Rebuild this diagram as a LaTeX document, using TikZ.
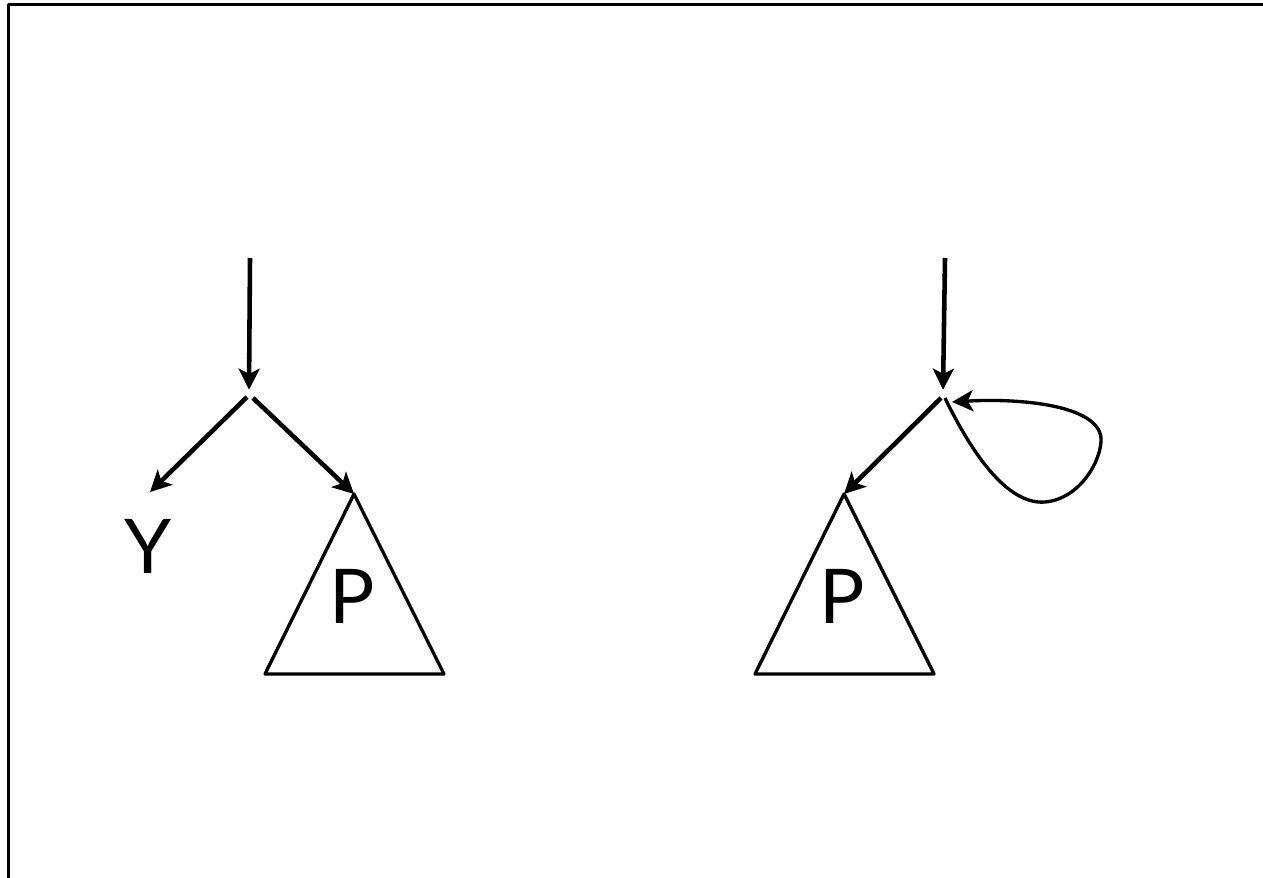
\documentclass[tikz,border=0pt]{standalone}
\usepackage{fontspec}
\setmainfont{Lato}
\usetikzlibrary{arrows.meta}
\begin{document}
\begin{tikzpicture}[x=0.02cm, y=-0.02cm, >={Stealth[length=12pt,width=12pt,inset=3pt]},
  line join=round,
  edge/.style={->, line width=2.6pt},
  tri/.style={line width=1.9pt},
  lbl/.style={font=\fontsize{43}{43}\selectfont, inner sep=0pt}]
\useasboundingbox (0,0) rectangle (1263,878);
\draw[line width=2.2pt] (8.5,878)--(8.5,4.5)--(1263,4.5);
% left tree
\coordinate (top1) at (250,258);
\coordinate (j1) at (249,395);
\coordinate (a1) at (354,494);
\node[lbl] (y) at (148,546) {Y};
\draw[edge] (top1)--([yshift=3pt]j1);
\draw[edge] ([shift={(-2,2)}]j1)--(150,492);
\draw[edge] ([shift={(4,3)}]j1)--(a1);
\draw[tri] (a1)--(444,674)--(265,674)--cycle;
\node[lbl] (p1) at (352,596) {P};
% right tree
\coordinate (top2) at (945,258);
\coordinate (j2) at (943,395);
\coordinate (a2) at (844,494);
\draw[edge] (top2)--([yshift=3pt]j2);
\draw[edge] ([shift={(-2,3)}]j2)--(a2);
\draw[tri] (a2)--(934,674)--(755,674)--cycle;
\node[lbl] (p2) at (842,596) {P};
% loop
\draw[tri, ->] ([shift={(2,3)}]j2) .. controls (975,460) and (1010,505) .. (1045,502)
  .. controls (1080,499) and (1102,460) .. (1101,438)
  .. controls (1098,405) and (1020,398) .. (952,402);
\end{tikzpicture}
\end{document}
